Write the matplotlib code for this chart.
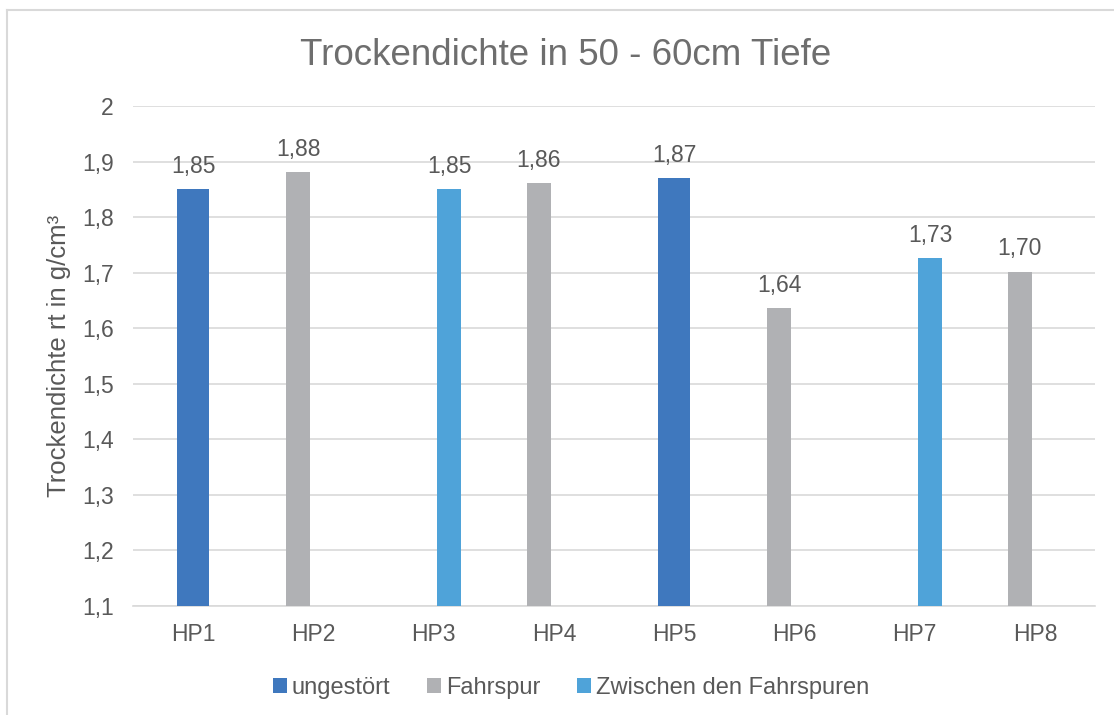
import numpy as np
import matplotlib
matplotlib.use("Agg")
import matplotlib.pyplot as plt
from matplotlib.lines import Line2D

plt.rcParams['font.family'] = ['Liberation Sans', 'DejaVu Sans']

# data
categories = ['HP1', 'HP2', 'HP3', 'HP4', 'HP5', 'HP6', 'HP7', 'HP8']
series_names = ['ungestört', 'Fahrspur', 'Zwischen den Fahrspuren']
ungestoert = [1.851, None, None, None, 1.871, None, None, None]
fahrspur = [None, 1.881, None, 1.861, None, 1.636, None, 1.702]
zwischen = [None, None, 1.851, None, None, None, 1.727, None]
y_ticks = [1.1, 1.2, 1.3, 1.4, 1.5, 1.6, 1.7, 1.8, 1.9, 2.0]
y_tick_labels = ['1,1', '1,2', '1,3', '1,4', '1,5', '1,6', '1,7', '1,8', '1,9', '2']

colors = ['#3F78BE', '#B0B1B4', '#4FA3D9']
offsets = [0.0, -0.125, 0.13]
widths = [0.27, 0.2, 0.2]
text_col = '#595959'

fig = plt.figure(figsize=(11.14, 7.15), dpi=100)
ax = fig.add_axes([0.1194, 0.1524, 0.8636, 0.6993])

x = np.arange(len(categories))
bottom = 1.1
for name, vals, col, off, w in zip(series_names, [ungestoert, fahrspur, zwischen],
                                   colors, offsets, widths):
    xs = [xi + off for xi, v in zip(x, vals) if v is not None]
    vs = [v for v in vals if v is not None]
    ax.bar(xs, [v - bottom for v in vs], bottom=bottom, width=w,
           color=col, label=name, zorder=3)
    for bx, v in zip(xs, vs):
        ax.text(bx, v + 0.029, f"{v:.2f}".replace('.', ','), ha='center',
                va='baseline', fontsize=16.5, color=text_col)

ax.set_xlim(-0.5, len(categories) - 0.5)
ax.set_ylim(1.1, 2.0)
ax.set_yticks(y_ticks)
ax.set_yticklabels(y_tick_labels, fontsize=16.5, color=text_col)
ax.set_xticks(x)
ax.set_xticklabels(categories, fontsize=16.5, color=text_col)
ax.tick_params(axis='both', length=0)
ax.tick_params(axis='y', pad=14)
ax.tick_params(axis='x', pad=12)
ax.grid(axis='y', color='#D9D9D9', linewidth=1.2, zorder=0)
for s in ['top', 'right', 'left']:
    ax.spines[s].set_visible(False)
ax.spines['bottom'].set_color('#D9D9D9')
ax.spines['bottom'].set_linewidth(1.2)

ax.set_ylabel('Trockendichte rt in g/cm³', fontsize=18.5, color=text_col, labelpad=8)
fig.suptitle('Trockendichte in 50 - 60cm Tiefe', fontsize=26.5, color='#6E6E6E',
             x=0.508, y=0.947)

ax.legend(loc='upper center', bbox_to_anchor=(0.455, -0.1), ncol=3, frameon=False,
          fontsize=17, handlelength=0.6, handleheight=0.6, handletextpad=0.2,
          columnspacing=1.55, labelcolor=text_col)

# chart border (only top and left edges visible)
bx0 = 6.5 / 1114
by0 = 1 - 9.5 / 715
fig.add_artist(Line2D([bx0, 1], [by0, by0], transform=fig.transFigure,
                      color='#D9D9D9', linewidth=1.5))
fig.add_artist(Line2D([bx0, bx0], [0, by0], transform=fig.transFigure,
                      color='#D9D9D9', linewidth=1.5))

fig.savefig('out.png', dpi=100)
